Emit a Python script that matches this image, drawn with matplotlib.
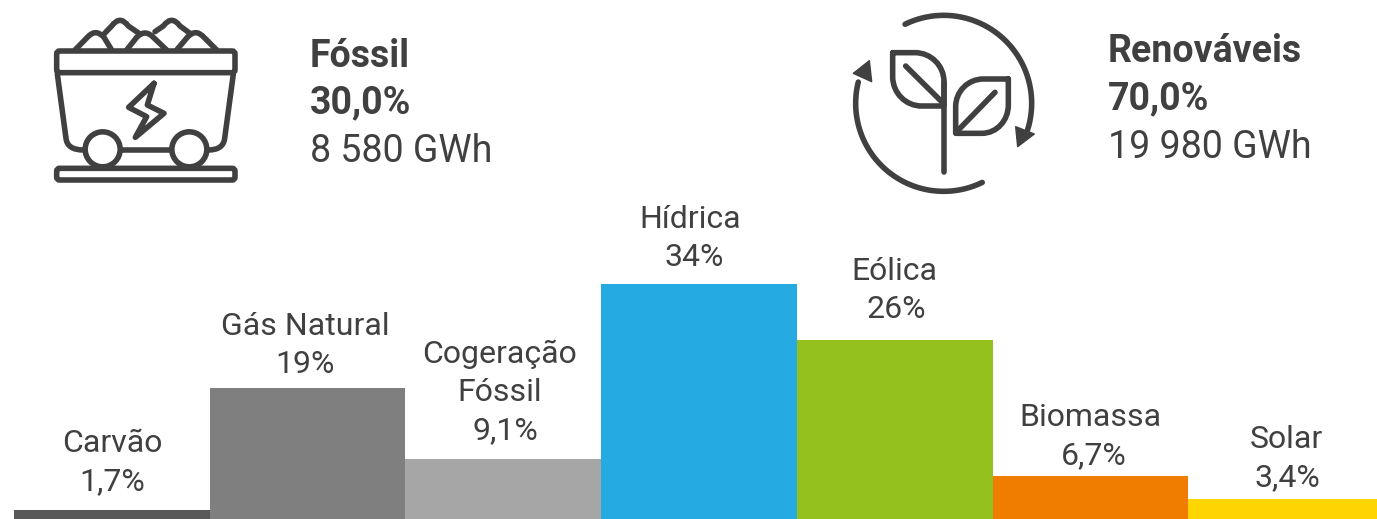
import numpy as np
import matplotlib
matplotlib.use('Agg')
import matplotlib.pyplot as plt
from matplotlib.path import Path
from matplotlib.patches import PathPatch, Circle, FancyBboxPatch, Polygon

plt.rcParams['font.family'] = ['Roboto', 'DejaVu Sans']

categories = ['Carvão', 'Gás Natural', 'Cogeração\nFóssil', 'Hídrica', 'Eólica', 'Biomassa', 'Solar']
value_labels = ['1,7%', '19%', '9,1%', '34%', '26%', '6,7%', '3,4%']
values = [1.3, 19, 8.7, 34, 26, 6.2, 2.9]
colors = ['#595959', '#7f7f7f', '#a6a6a6', '#25aae1', '#95c11f', '#f07d00', '#ffd500']

# group headers
group_names = ['Fóssil', 'Renováveis']
group_shares = ['30,0%', '70,0%']
group_gwh = ['8 580 GWh', '19 980 GWh']

W, H = 1377, 519
INK = '#404040'
LW = 4.0

# label placement, pixels (centre x, baseline y of last line)
label_x = [112, 305, 505, 694, 896, 1094, 1287]
label_y = [490, 373, 439, 266, 318, 464, 486]
name_x = [112, 305, 500, 690, 894, 1090, 1286]

fig = plt.figure(figsize=[W / 100, H / 100], dpi=100)

# bars, one unit = 195.7 px wide, 6.9 px per percent
ax = fig.add_axes([0, 0, 1, 1])
ax.bar(np.arange(7), values, width=1.0, align='edge', color=colors, linewidth=0)
ax.set_xlim(-14 / 195.7, (W - 14) / 195.7)
ax.set_ylim(0, H / 6.9)
ax.axis('off')

# overlay in pixel coordinates for text and icons
ov = fig.add_axes([0, 0, 1, 1])
ov.set_xlim(0, W)
ov.set_ylim(H, 0)
ov.axis('off')
ov.patch.set_alpha(0)

LINE = 38
for i in range(7):
    ov.text(label_x[i], label_y[i], value_labels[i], ha='center', va='baseline',
            fontsize=23, color=INK)
    for j, part in enumerate(reversed(categories[i].split('\n'))):
        ov.text(name_x[i], label_y[i] - LINE * (j + 1), part, ha='center', va='baseline',
                fontsize=23, color=INK)

for x, ys, k in [(310, (67, 113, 162), 0), (1108, (62, 109, 158), 1)]:
    ov.text(x, ys[0], group_names[k], fontsize=27, fontweight='bold', color=INK, va='baseline')
    ov.text(x, ys[1], group_shares[k], fontsize=27, fontweight='bold', color=INK, va='baseline')
    ov.text(x, ys[2], group_gwh[k], fontsize=27, color=INK, va='baseline')


def zoomed(pts, ox):
    # icon sketched in coordinates of a 3x crop
    return [(ox + p[0] / 3, p[1] / 3) for p in pts]


def stroke(pts, codes=None, ox=30, fill='none'):
    ov.add_patch(PathPatch(Path(zoomed(pts, ox), codes), fc=fill, ec=INK, lw=LW,
                           capstyle='round', joinstyle='round'))


def rrect(x0, y0, x1, y1, ox=30):
    a = zoomed([(x0, y0), (x1, y1)], ox)
    ov.add_patch(FancyBboxPatch(a[0], a[1][0] - a[0][0], a[1][1] - a[0][1],
                                boxstyle='round,pad=0,rounding_size=3', fc='white', ec=INK, lw=LW))


M, L, C3, C4 = Path.MOVETO, Path.LINETO, Path.CURVE3, Path.CURVE4

# coal cart
for r in [[(135, 150), (172, 112), (197, 84), (222, 112), (245, 150)],
          [(222, 102), (245, 78), (270, 44), (295, 78), (330, 102)],
          [(290, 150), (320, 112), (345, 86), (370, 112), (410, 150)],
          [(375, 95), (400, 78), (425, 44), (450, 78), (480, 100)],
          [(440, 150), (472, 112), (497, 84), (522, 112), (560, 150)]]:
    stroke(r, [M, L, C3, C3, L])
rrect(80, 153, 615, 218)
stroke([(82, 222), (108, 415), (112, 450), (160, 450)], [M, L, C3, C3])
stroke([(610, 222), (584, 415), (580, 450), (535, 450)], [M, L, C3, C3])
stroke([(270, 450), (425, 450)])
rrect(80, 505, 615, 540)
for cx in (218, 478):
    c = zoomed([(cx, 448)], 30)[0]
    ov.add_patch(Circle(c, 17.5, fc='white', ec=INK, lw=LW))
bolt = [(372, 250), (296, 322), (350, 350), (316, 412), (402, 340), (352, 315), (372, 250)]
stroke(bolt)

# plant with recycling arrows
PX = 840
def arc(a0, a1):
    t = np.radians(np.linspace(a0, a1, 60))
    return [(311 + 264 * np.cos(v), 310 + 264 * np.sin(v)) for v in t]

stroke(arc(-116, 18), ox=PX)
stroke(arc(64, 194), ox=PX)
for tri in [[(527, 380), (583, 402), (533, 440)], [(88, 182), (40, 220), (95, 245)]]:
    ov.add_patch(Polygon(zoomed(tri, PX), fc=INK, ec=INK, lw=1, joinstyle='round'))
stroke([(158, 158), (225, 158), (273, 158), (312, 197), (312, 245), (312, 318),
        (245, 318), (197, 318), (158, 279), (158, 230), (158, 158)],
       [M, L, C4, C4, C4, L, L, C4, C4, C4, L], ox=PX)
stroke([(197, 198), (305, 305)], ox=PX)
stroke([(312, 245), (312, 515)], ox=PX)
stroke([(505, 237), (430, 237), (384, 237), (347, 274), (347, 320), (347, 400),
        (425, 400), (471, 400), (505, 361), (505, 315), (505, 237)],
       [M, L, C4, C4, C4, L, L, C4, C4, C4, L], ox=PX)
stroke([(465, 277), (355, 390)], ox=PX)

plt.savefig('out.png', dpi=100)
